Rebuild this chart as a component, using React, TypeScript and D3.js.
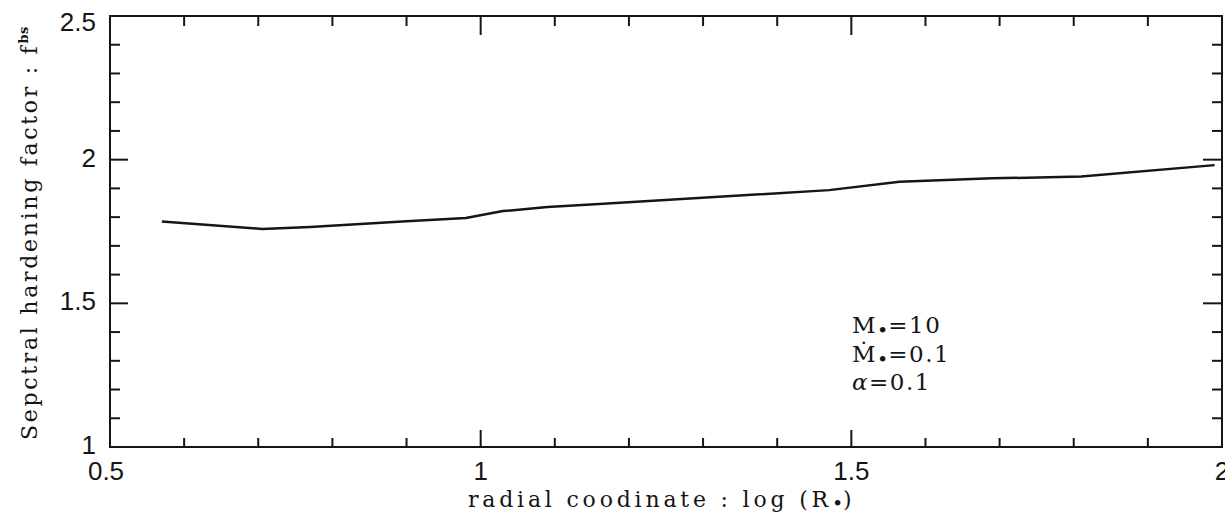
import React from "react";
import * as d3 from "d3";

// curve
const logR = [0.57, 0.705, 0.77, 0.9, 0.98, 1.03, 1.09, 1.16, 1.47, 1.565, 1.69, 1.81, 1.99];
const fbs = [1.785, 1.759, 1.766, 1.786, 1.797, 1.821, 1.835, 1.846, 1.894, 1.923, 1.935, 1.941, 1.981];

const xMajor = [0.5, 1, 1.5, 2];
const xMinor = [0.6, 0.7, 0.8, 0.9, 1.1, 1.2, 1.3, 1.4, 1.6, 1.7, 1.8, 1.9];
const yMajor = [1, 1.5, 2, 2.5];
const yMinor = [1.1, 1.2, 1.3, 1.4, 1.6, 1.7, 1.8, 1.9, 2.1, 2.2, 2.3, 2.4];
const xLabels = ["0.5", "1", "1.5", "2"];
const yLabels = ["1", "1.5", "2", "2.5"];

const W = 1225;
const H = 514;
const left = 110, right = 1222, top = 16, bottom = 447;

const App = () => {
    const x = d3.scaleLinear().domain([0.5, 2]).range([left, right]);
    const y = d3.scaleLinear().domain([1, 2.5]).range([bottom, top]);

    const line = d3
        .line<number>()
        .x((d, i) => x(logR[i]))
        .y((d) => y(d));

    const numFont = "'Liberation Sans', Arial, sans-serif";
    const serif = "'DejaVu Serif', serif";
    const ink = "#151515";

    return (
        <svg width={W} height={H} style={{ position: "absolute", left: 0, top: 0, background: "#fff" }}>
            {/* frame */}
            <rect x={left} y={top} width={right - left} height={bottom - top} fill="none" stroke={ink} strokeWidth={2} />

            {/* ticks on all four sides, pointing inward */}
            <g stroke={ink} strokeWidth={2}>
                {xMajor.map((v) => (
                    <g key={"xM" + v}>
                        <line x1={x(v)} x2={x(v)} y1={bottom} y2={bottom - 17} />
                        <line x1={x(v)} x2={x(v)} y1={top} y2={top + 19} />
                    </g>
                ))}
                {xMinor.map((v) => (
                    <g key={"xm" + v}>
                        <line x1={x(v)} x2={x(v)} y1={bottom} y2={bottom - 9} />
                        <line x1={x(v)} x2={x(v)} y1={top} y2={top + 10} />
                    </g>
                ))}
                {yMajor.map((v) => (
                    <g key={"yM" + v}>
                        <line x1={left} x2={left + 18} y1={y(v)} y2={y(v)} />
                        <line x1={right} x2={right - 19} y1={y(v)} y2={y(v)} />
                    </g>
                ))}
                {yMinor.map((v) => (
                    <g key={"ym" + v}>
                        <line x1={left} x2={left + 10} y1={y(v)} y2={y(v)} />
                        <line x1={right} x2={right - 10} y1={y(v)} y2={y(v)} />
                    </g>
                ))}
            </g>

            {/* tick labels */}
            <g fontFamily={numFont} fontSize={26} fill={ink}>
                {xMajor.map((v, i) => (
                    <text key={"xl" + v} x={x(v) - (i === 0 ? 4 : 0)} y={bottom + 33} textAnchor="middle">
                        {xLabels[i]}
                    </text>
                ))}
                {yMajor.map((v, i) => (
                    <text
                        key={"yl" + v}
                        x={left - 14}
                        y={y(v) + (i === 3 ? 8 : 0)}
                        textAnchor="end"
                        dominantBaseline="middle"
                    >
                        {yLabels[i]}
                    </text>
                ))}
            </g>

            {/* curve */}
            <path d={line(fbs) || ""} fill="none" stroke={ink} strokeWidth={2.5} strokeLinejoin="round" />

            {/* annotation */}
            <g fontFamily={serif} fontSize={23} fill={ink} letterSpacing={1.5}>
                <text x={852} y={333}>
                    M<tspan fontSize={19} dy={4} letterSpacing={0}>•</tspan>
                    <tspan dy={-4}>=10</tspan>
                </text>
                <text x={852} y={362}>
                    Ṁ<tspan fontSize={19} dy={4} letterSpacing={0}>•</tspan>
                    <tspan dy={-4}>=0.1</tspan>
                </text>
                <text x={852} y={390}>
                    <tspan fontStyle="italic">α</tspan>=0.1
                </text>
            </g>

            {/* axis titles */}
            <text x={468} y={507} fontFamily={serif} fontSize={22} fill={ink} letterSpacing={3.8}>
                radial coodinate : log (R<tspan fontSize={19} dy={3} letterSpacing={0}>•</tspan>
                <tspan dy={-3}>)</tspan>
            </text>
            <text
                transform="translate(37,440) rotate(-90)"
                x={0}
                y={0}
                fontFamily={serif}
                fontSize={22}
                fill={ink}
                letterSpacing={2.7}
            >
                Sepctral hardening factor : f
                <tspan fontSize={13} dy={-9} fontWeight="bold" letterSpacing={0.5}>bs</tspan>
            </text>
        </svg>
    );
};

export default App;
